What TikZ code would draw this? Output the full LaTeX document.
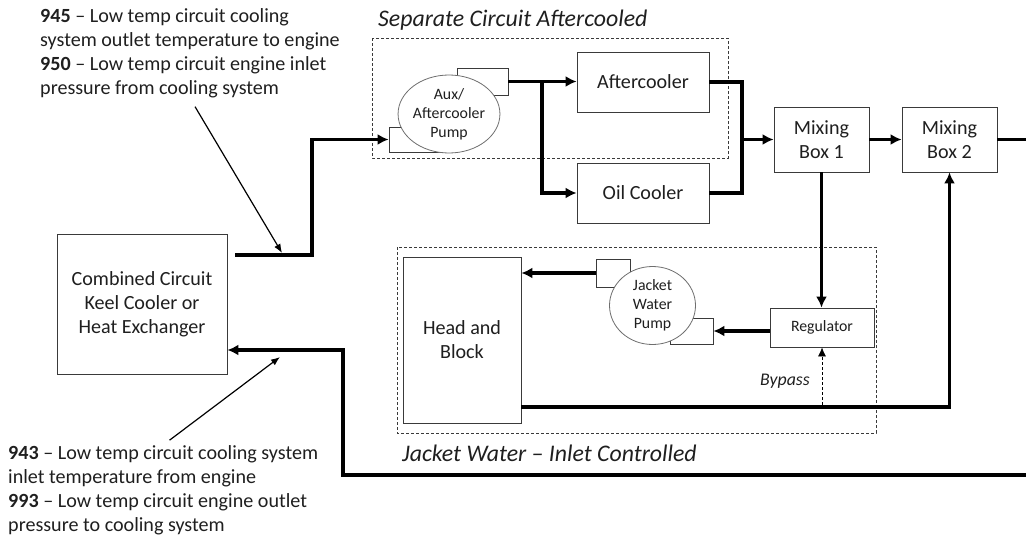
\documentclass[tikz,border=0pt]{standalone}
\usepackage{fontspec}
\setmainfont{Carlito}
\usepackage{xcolor}
\usepackage{tikz}
\usetikzlibrary{arrows.meta,positioning,calc,shapes.geometric}
\definecolor{dgink}{HTML}{1F1F1F}
\definecolor{dgline}{HTML}{3A3A3A}
\definecolor{dgring}{HTML}{6E6E6E}
\newcommand{\fsbody}{\fontsize{20.1}{24.1}\selectfont}
\newcommand{\fssmall}{\fontsize{15.8}{18.8}\selectfont}
\newcommand{\fstitle}{\fontsize{23.8}{28}\selectfont\itshape}
\newcommand{\fsbypass}{\fontsize{17.8}{21}\selectfont\itshape}

\begin{document}
\begin{tikzpicture}[x=1pt,y=-1pt,
  unit/.style={draw=dgline,fill=white,line width=0.8pt,align=center,
               font=\fsbody\color{dgink},inner sep=0pt},
  pump/.style={ellipse,draw=dgring,fill=white,line width=0.8pt,
               minimum width=86pt,minimum height=78pt,inner sep=0pt,
               align=center,font=\fssmall\color{dgink}},
  tab/.style={draw=dgline,fill=white,line width=0.8pt,inner sep=0pt},
  pipe/.style={-{Latex[length=11pt,width=11pt]},line width=3.6pt},
  duct/.style={line width=3.6pt},
  group/.style={draw=dgline,dash pattern=on 3pt off 2pt,line width=0.7pt},
  callout/.style={-{Latex[length=9pt,width=7pt]},line width=1.2pt},
  bypass/.style={-{Latex[length=9pt,width=8pt]},dash pattern=on 3pt off 2pt,
                 line width=0.7pt},
  note/.style={align=left,font=\fsbody\color{dgink},inner sep=0pt},
  caption/.style={font=\fstitle\color{dgink},anchor=base west,inner sep=0pt}
]
\useasboundingbox (0,0) rectangle (1026,538);
% keel cooler and notes
\node[unit,minimum width=170pt,minimum height=140pt] (hx) at (142,304)
  {Combined Circuit\\Keel Cooler or\\Heat Exchanger};
\node[note,anchor=north west] (n945) at (40,8)
  {\textbf{945} -- Low temp circuit cooling\\system outlet temperature to engine\\
   \textbf{950} -- Low temp circuit engine inlet\\pressure from cooling system};
\node[note,anchor=north west] (n943) at (8,445)
  {\textbf{943} -- Low temp circuit cooling system\\inlet temperature from engine\\
   \textbf{993} -- Low temp circuit engine outlet\\pressure to cooling system};
% separate circuit
\draw[group] (372,38) rectangle (728,158);
\node[caption] (tsep) at (378,27) {Separate Circuit Aftercooled};
\node[tab,minimum width=51pt,minimum height=27pt] (auxout) at (482.5,81.5) {};
\node[tab,minimum width=58pt,minimum height=25pt] (auxin) at (418,139.5) {};
\node[pump] (aux) at (449,114) {Aux/\\Aftercooler\\Pump};
\node[unit,minimum width=132pt,minimum height=60pt] (ac) at (643,82) {Aftercooler};
\node[unit,minimum width=132pt,minimum height=60pt] (oc) at (643,193) {Oil Cooler};
\node[unit,minimum width=95pt,minimum height=65pt] (mb1) at (821.5,139.5) {Mixing\\Box 1};
\node[unit,minimum width=95pt,minimum height=65pt] (mb2) at (949.5,139.5) {Mixing\\Box 2};
% jacket water
\draw[group] (397,247) rectangle (876,433);
\node[caption] (tjw) at (402,461) {Jacket Water -- Inlet Controlled};
\node[unit,minimum width=118pt,minimum height=166pt] (hb) at (462,340) {Head and\\Block};
\node[tab,minimum width=34pt,minimum height=28pt] (jwout) at (613,273) {};
\node[tab,minimum width=43pt,minimum height=26pt] (jwin) at (691.5,331) {};
\node[pump] (jwp) at (652.5,305.5) {Jacket\\Water\\Pump};
\node[unit,font=\fssmall\color{dgink},minimum width=104pt,minimum height=39pt]
  (reg) at (822,327.5) {Regulator};
\node[font=\fsbypass\color{dgink},anchor=base east,inner sep=0pt] (lbyp) at (810,385) {Bypass};
% bends and free ends
\coordinate (kout) at (312,255);
\coordinate (split) at (542,82);
\coordinate (mix) at (742,139.5);
\coordinate (edgeR) at (1026,139.5);
\coordinate (hbout) at (949,407);
\coordinate (retR) at (1026,475);
\coordinate (retL) at (343,475);
\coordinate (retT) at (343,350);
\coordinate (p945) at (282,253);
\coordinate (p943) at (280,357);
% flow
\draw[pipe,shorten <=8pt] (hx.east |- kout) -- (kout) |- (auxin.west);
\draw[pipe] (auxout.east) -- (auxout.east -| ac.west);
\draw[pipe] (split) |- (oc.west);
\draw[duct] (ac.east) -| (mix) (oc.east) -| (mix);
\draw[pipe] (mix) -- (mb1.west);
\draw[pipe] (mb1.east) -- (mb2.west);
\draw[duct] (mb2.east) -- (edgeR);
\draw[pipe] (mb1.south) -- (mb1.south |- reg.north);
\draw[pipe] (reg.west |- jwin) -- (jwin.east);
\draw[pipe] (jwout.west) -- (jwout.west -| hb.east);
\draw[pipe] (hb.east |- hbout) -| (mb2.south);
\draw[bypass,shorten <=2pt] (reg.south |- hbout) -- (reg.south);
\draw[pipe] (retR) -- (retL) -- (retT) -- (hx.east |- retT);
% sensor callouts
\draw[callout,shorten <=10pt] (n945.south) -- (p945);
\draw[callout,shorten <=8pt] (n943.north) -- (p943);
\end{tikzpicture}
\end{document}
